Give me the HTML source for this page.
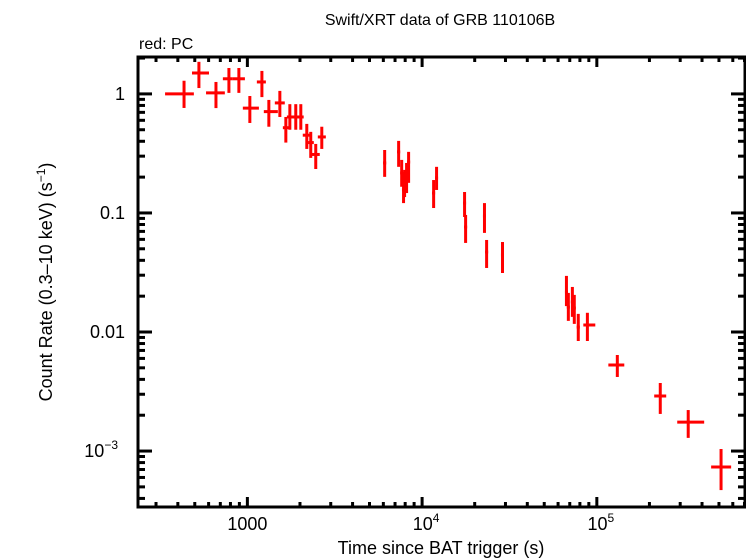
<!DOCTYPE html>
<html><head><meta charset="utf-8"><style>
html,body{margin:0;padding:0;background:#fff;}
svg{display:block;font-family:"Liberation Sans",sans-serif;}
</style></head><body>
<svg id="chart" width="746" height="558" viewBox="0 0 746 558" xmlns="http://www.w3.org/2000/svg">
<text x="440" y="25" font-size="16" text-anchor="middle">Swift/XRT data of GRB 110106B</text>
<text x="139" y="49" font-size="16">red: PC</text>
<text x="441" y="554" font-size="18" text-anchor="middle">Time since BAT trigger (s)</text>
<text transform="translate(52,282) rotate(-90)" font-size="18" text-anchor="middle">Count Rate (0.3–10 keV) (s<tspan dy="-7" font-size="12">−1</tspan><tspan dy="7">)</tspan></text>
<g id="ticks"></g>
<g id="marks"></g>
<rect x="138" y="57" width="607" height="450" fill="none" stroke="#000" stroke-width="3"/>
</svg>
<script>
const times = [434,528,661,784,894,1033,1211,1327,1534,1660,1750,1892,2022,2188,2305,2462,2666,6105,7340,7640,7830,7940,8150,8370,12100,11640,17500,17740,22750,23400,28850,67000,68700,72450,74300,78300,88300,131000,230700,333400,514000];
const timeLo = [338,482,580,724,826,942,1133,1242,1436,1596,1683,1820,1950,2075,2225,2305,2530,5980,7190,7490,7670,7780,7990,8200,11860,11400,17150,17380,22300,22930,28270,65700,67300,71000,72800,76700,83700,116400,213000,288500,451000];
const timeHi = [494,603,743,826,968,1164,1276,1494,1637,1726,1845,1968,2100,2305,2400,2596,2812,6230,7490,7790,7990,8100,8310,8540,12340,11870,17850,18100,23200,23870,29430,68300,70100,73900,75800,79900,98000,143600,249500,411500,587000];
const rates = [1.0,1.50,1.02,1.34,1.34,0.76,1.26,0.71,0.84,0.52,0.64,0.64,0.64,0.45,0.39,0.31,0.435,0.263,0.326,0.217,0.156,0.189,0.217,0.268,0.197,0.147,0.121,0.0762,0.0944,0.047,0.0444,0.0217,0.0162,0.0179,0.0159,0.011,0.01145,0.00528,0.0029,0.00175,0.000734];
const rateLo = [0.762,1.12,0.76,1.02,1.02,0.57,0.94,0.53,0.64,0.39,0.50,0.50,0.50,0.345,0.29,0.234,0.345,0.201,0.244,0.166,0.121,0.136,0.147,0.179,0.156,0.110,0.0925,0.056,0.068,0.0345,0.0313,0.0165,0.0124,0.0134,0.0117,0.0084,0.0084,0.00419,0.00205,0.00129,0.00047];
const rateHi = [1.29,1.86,1.26,1.65,1.65,0.96,1.56,0.89,1.06,0.64,0.82,0.82,0.82,0.56,0.48,0.38,0.53,0.338,0.403,0.279,0.221,0.23,0.263,0.326,0.244,0.189,0.150,0.0962,0.121,0.0593,0.057,0.0296,0.0213,0.0239,0.0205,0.0142,0.0145,0.00641,0.00373,0.00221,0.00104];
const xTickVals = [1000,10000,100000];
const xTickLabels = ["1000","10^4","10^5"];
const yTickVals = [1,0.1,0.01,0.001];
const yTickLabels = ["1","0.1","0.01","10^-3"];

const L=138,R=745,T=57,B=507;
const xmin=2.374, xmax=5.848, ymin=-3.47, ymax=0.31;
function X(v){return L+(Math.log10(v)-xmin)/(xmax-xmin)*(R-L);}
function Y(v){return B-(Math.log10(v)-ymin)/(ymax-ymin)*(B-T);}
const NS="http://www.w3.org/2000/svg";
function mk(tag,attrs,parent){const e=document.createElementNS(NS,tag);for(const k in attrs)e.setAttribute(k,attrs[k]);parent.appendChild(e);return e;}
const tg=document.getElementById('ticks');
const mg=document.getElementById('marks');
for(let d=2;d<=5;d++){for(let m=1;m<10;m++){const v=m*Math.pow(10,d);const lv=Math.log10(v);if(lv<xmin||lv>xmax)continue;const x=X(v);const len=m===1?10:5;
const t1=mk('line',{x1:x,x2:x,y1:B,y2:B-len,stroke:'#000','stroke-width':3},tg);


const t2=mk('line',{x1:x,x2:x,y1:T,y2:T+len,stroke:'#000','stroke-width':3},tg);

}}
for(let d=-4;d<=0;d++){for(let m=1;m<10;m++){const v=m*Math.pow(10,d);const lv=Math.log10(v);if(lv<ymin||lv>ymax)continue;const y=Y(v);const len=m===1?14:7;
const t1=mk('line',{x1:L,x2:L+len,y1:y,y2:y,stroke:'#000','stroke-width':3},tg);


const t2=mk('line',{x1:R,x2:R-len,y1:y,y2:y,stroke:'#000','stroke-width':3},tg);

}}
function label(txt,x,y,anchor,parent){const t=mk('text',{x:x,y:y,'font-size':18,'text-anchor':anchor},parent);
const p=txt.split('^');t.appendChild(document.createTextNode(p[0]));
if(p[1]){const s=mk('tspan',{dy:-8,'font-size':12},t);s.textContent=p[1].replace('-','−');}
return t;}
xTickVals.forEach((v,i)=>{const t=label(xTickLabels[i],X(v)+(i===0?0:4),530,'middle',tg);

});
yTickVals.forEach((v,i)=>{const t=label(yTickLabels[i],i===3?118:125,Y(v)+6,'end',tg);

});
for(let i=0;i<times.length;i++){
const g=mk('g',{},mg);


const x=X(times[i]),y=Y(rates[i]);
mk('line',{x1:X(timeLo[i]),x2:X(timeHi[i]),y1:y,y2:y,stroke:'#f00','stroke-width':3},g);
mk('line',{x1:x,x2:x,y1:Y(rateHi[i]),y2:Y(rateLo[i]),stroke:'#f00','stroke-width':3},g);
}
</script>
</body></html>
